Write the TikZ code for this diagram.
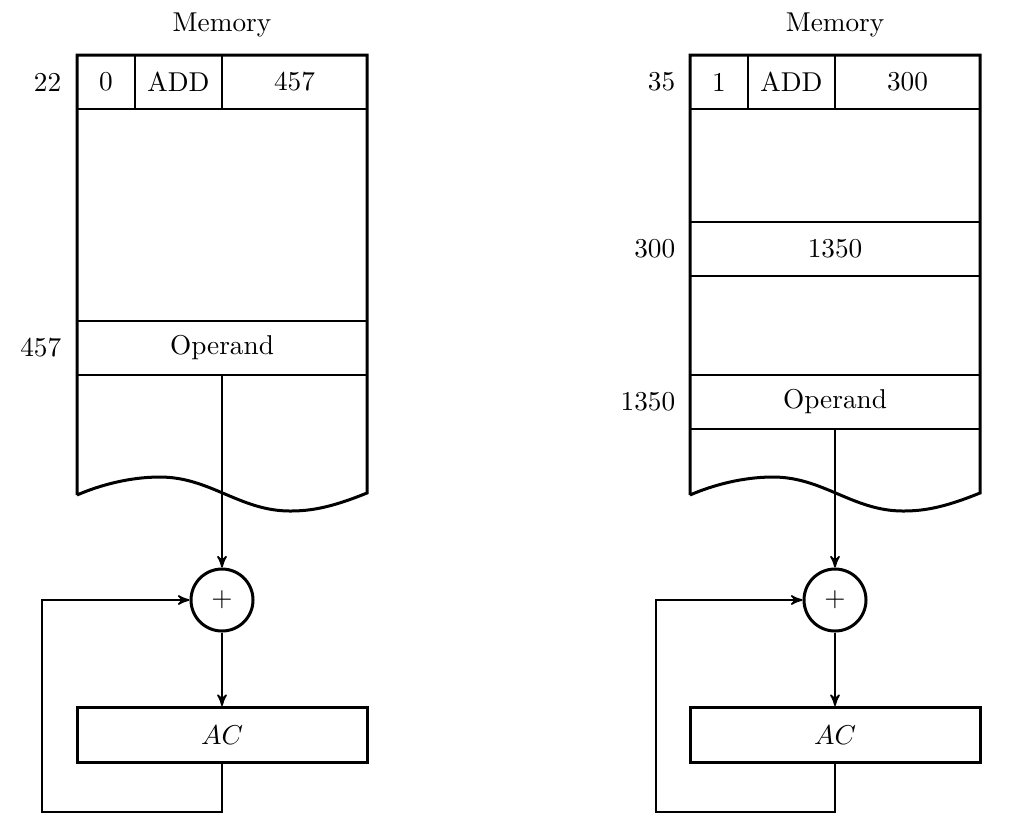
\documentclass[tikz,border=0pt]{standalone}
\usepackage{amsmath,amssymb}
\usetikzlibrary{arrows}
\newcommand{\pu}{0.0129cm}

\begin{document}
\begin{tikzpicture}[x=\pu,y=-\pu,semithick,>=stealth']
    \tikzstyle{cell}=[draw, rectangle, inner sep=0pt, minimum height=54*\pu, line width=0.5pt]
    \tikzstyle{outline}=[line width=1.1pt]
    \tikzstyle{adder}=[draw, circle, line width=1.1pt, minimum size=62*\pu, inner sep=0pt]
    \tikzstyle{acreg}=[draw, rectangle, line width=1.1pt, minimum width=290*\pu, minimum height=55*\pu]
    \tikzstyle{addr}=[anchor=east, inner sep=0pt]
    \tikzstyle{flow}=[->, line width=0.6pt]

    \useasboundingbox (0,0) rectangle (1024,835);

    % left memory (direct addressing)
    \node (memL) at (222,25) {Memory};
    \node[cell, minimum width=58*\pu] (modeL) at (106,82) {0};
    \node[cell, minimum width=87*\pu] (opcL) at (178.5,82) {ADD};
    \node[cell, minimum width=145*\pu] (adrL) at (294.5,82) {457};
    \node[cell, minimum width=290*\pu] (operL) at (222,348) {Operand};
    \draw[outline] (77,495) -- (77,55) -- (367,55) -- (367,493)
        .. controls (330,508) and (310,511) .. (290,511)
        .. controls (240,511) and (210,477) .. (160,477)
        .. controls (130,477) and (100,485) .. (77,495);
    \node[addr] (a22) at (62,82) {22};
    \node[addr] (a457) at (62,348) {457};

    \node[adder] (plusL) at (222,600) {$+$};
    \node[acreg] (acL) at (222,735) {$AC$};
    \coordinate (fbL) at (42,812);
    \draw[flow] (operL.south) -- (plusL.north);
    \draw[flow] (plusL.south) -- (acL.north);
    \draw[flow] (acL.south) |- (fbL) |- (plusL.west);

    % right memory (indirect addressing)
    \node (memR) at (835,25) {Memory};
    \node[cell, minimum width=58*\pu] (modeR) at (719,82) {1};
    \node[cell, minimum width=87*\pu] (opcR) at (791.5,82) {ADD};
    \node[cell, minimum width=145*\pu] (adrR) at (907.5,82) {300};
    \node[cell, minimum width=290*\pu] (ptrR) at (835,249) {1350};
    \node[cell, minimum width=290*\pu] (operR) at (835,402) {Operand};
    \draw[outline] (690,495) -- (690,55) -- (980,55) -- (980,493)
        .. controls (943,508) and (923,511) .. (903,511)
        .. controls (853,511) and (823,477) .. (773,477)
        .. controls (743,477) and (713,485) .. (690,495);
    \node[addr] (a35) at (676,82) {35};
    \node[addr] (a300) at (676,249) {300};
    \node[addr] (a1350) at (676,402) {1350};

    \node[adder] (plusR) at (835,600) {$+$};
    \node[acreg] (acR) at (835,735) {$AC$};
    \coordinate (fbR) at (656,812);
    \draw[flow] (operR.south) -- (plusR.north);
    \draw[flow] (plusR.south) -- (acR.north);
    \draw[flow] (acR.south) |- (fbR) |- (plusR.west);
\end{tikzpicture}
\end{document}
